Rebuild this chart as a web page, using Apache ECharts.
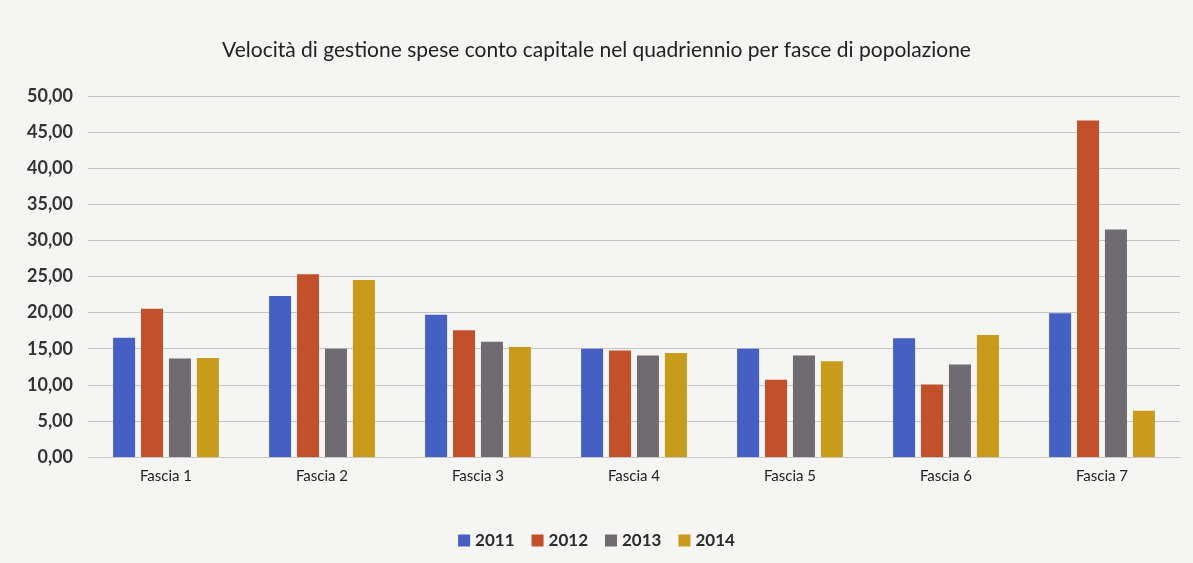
<!DOCTYPE html>
<html><head><meta charset="utf-8">
<script src="https://cdn.jsdelivr.net/npm/echarts@6/dist/echarts.min.js"></script>
<style>html,body{margin:0;padding:0;background:#f5f5f4;}#c{width:1193px;height:563px;}</style>
</head><body><div id="c"></div>
<script>
const categories = ['Fascia 1','Fascia 2','Fascia 3','Fascia 4','Fascia 5','Fascia 6','Fascia 7'];
const seriesNames = ['2011','2012','2013','2014'];
const v2011 = [16.5, 22.3, 19.7, 15.0, 15.0, 16.45, 19.9];
const v2012 = [20.55, 25.3, 17.55, 14.75, 10.7, 10.05, 46.6];
const v2013 = [13.65, 15.0, 15.95, 14.05, 14.05, 12.8, 31.5];
const v2014 = [13.7, 24.5, 15.25, 14.4, 13.25, 16.9, 6.4];
const yTicks = {min: 0, max: 50, interval: 5};
const colors = ['#4560c2','#c2502a','#6f6b70','#c99b1a'];
const values = [v2011, v2012, v2013, v2014];
const font = 'Lato, "Open Sans", sans-serif';
const chart = echarts.init(document.getElementById('c'));
chart.setOption({
  backgroundColor: '#f5f5f4',
  animation: false,
  title: {text: 'Velocità di gestione spese conto capitale nel quadriennio per fasce di popolazione', left: 'center', top: 35,
    textStyle: {fontFamily: font, fontSize: 21, fontWeight: 'normal', color: '#222'}},
  legend: {top: 527, left: 'center', itemWidth: 12, itemHeight: 12, itemGap: 17, icon: 'rect',
    textStyle: {fontFamily: font, fontSize: 17, color: '#2a2a2a', fontWeight: 'bold', padding: [0, 0, 0, 0]}, data: seriesNames},
  grid: {left: 88, right: 13, top: 96, bottom: 106, containLabel: false},
  xAxis: {type: 'category', data: categories,
    axisLine: {lineStyle: {color: '#c8c8c8'}}, axisTick: {show: false},
    axisLabel: {fontFamily: font, fontSize: 15, color: '#222', margin: 12}},
  yAxis: {type: 'value', min: yTicks.min, max: yTicks.max, interval: yTicks.interval,
    axisLine: {show: false}, axisTick: {show: false},
    splitLine: {lineStyle: {color: '#c4c4c6', width: 1}},
    axisLabel: {fontFamily: font, fontSize: 18, fontWeight: 'bold', color: '#333', margin: 15,
      formatter: v => v.toFixed(2).replace('.', ',')}},
  series: seriesNames.map((n, i) => ({
    name: n, type: 'bar', data: values[i], itemStyle: {color: colors[i]},
    barWidth: 22, barGap: '27%', barCategoryGap: '32%'
  }))
});
</script></body></html>
